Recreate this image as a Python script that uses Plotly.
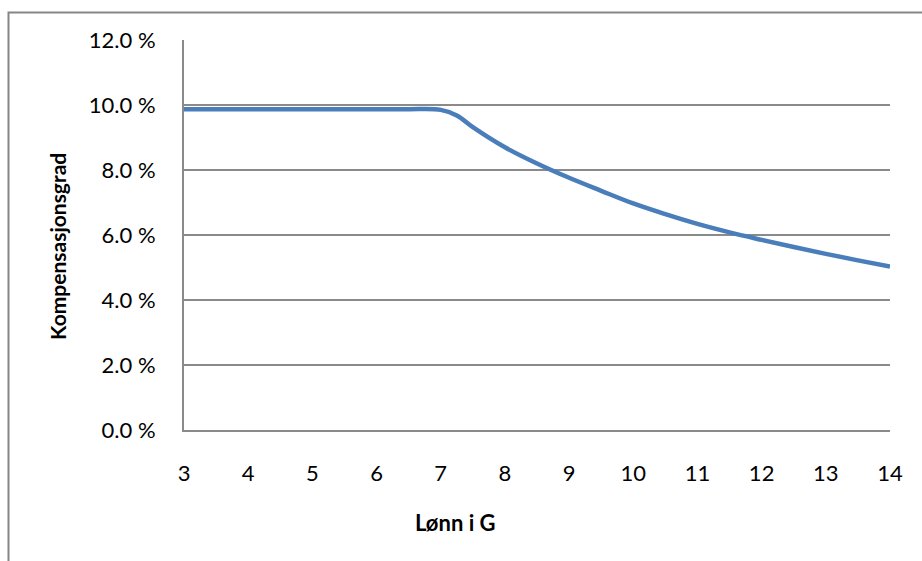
import plotly.graph_objects as go

# Data
lonn_i_g = [3, 4, 5, 6, 6.5, 7, 7.25, 7.5, 8, 8.5, 9, 9.5, 10, 10.5, 11, 11.5, 12, 12.5, 13, 13.5, 14]
kompensasjonsgrad = [9.87, 9.87, 9.87, 9.87, 9.87, 9.85, 9.68, 9.32, 8.70, 8.20, 7.76, 7.36, 6.97,
                     6.64, 6.34, 6.08, 5.85, 5.63, 5.42, 5.22, 5.03]

y_tick_vals = [0, 2, 4, 6, 8, 10, 12]
y_tick_text = ["0.0 %", "2.0 %", "4.0 %", "6.0 %", "8.0 %", "10.0 %", "12.0 %"]
x_tick_vals = [3, 4, 5, 6, 7, 8, 9, 10, 11, 12, 13, 14]

FONT = "Lato"
GRID = "#8a8a8a"

fig = go.Figure()
fig.add_trace(go.Scatter(
    x=lonn_i_g, y=kompensasjonsgrad, mode="lines",
    line=dict(color="#4a7ebb", width=4.5, shape="spline", smoothing=1.0),
    showlegend=False, hoverinfo="x+y",
))

fig.update_layout(
    width=922, height=561,
    margin=dict(l=184, r=32, t=40, b=131),
    paper_bgcolor="white", plot_bgcolor="white",
    font=dict(family=FONT, size=22, color="#000000"),
    xaxis=dict(
        range=[3, 14], tickvals=x_tick_vals, showgrid=False, zeroline=False,
        showline=True, linecolor=GRID, linewidth=2,
        ticks="outside", ticklen=23, tickcolor="rgba(0,0,0,0)",
        tickfont=dict(family=FONT, size=22),
    ),
    yaxis=dict(
        range=[0, 12], tickvals=y_tick_vals, ticktext=y_tick_text,
        showgrid=True, gridcolor=GRID, gridwidth=2, zeroline=False,
        showline=True, linecolor=GRID, linewidth=2,
        ticks="outside", ticklen=22, tickcolor="rgba(0,0,0,0)",
        tickfont=dict(family=FONT, size=22),
    ),
    shapes=[dict(
        type="rect", xref="paper", yref="paper",
        x0=-0.2486, y0=-0.6, x1=1.2, y1=1.0705,
        line=dict(color="#868686", width=2), fillcolor="rgba(0,0,0,0)", layer="below",
    )],
    annotations=[
        dict(text="<b>Lønn i G</b>", xref="paper", yref="paper", x=0.385, y=-0.238,
             showarrow=False, xanchor="center", yanchor="middle",
             font=dict(family=FONT, size=22, color="#000000")),
        dict(text="<b>Kompensasjonsgrad</b>", xref="paper", yref="paper", x=-0.1785, y=0.472,
             showarrow=False, xanchor="center", yanchor="middle", textangle=-90,
             font=dict(family=FONT, size=21, color="#000000")),
    ],
)

fig.write_html("out.html")
